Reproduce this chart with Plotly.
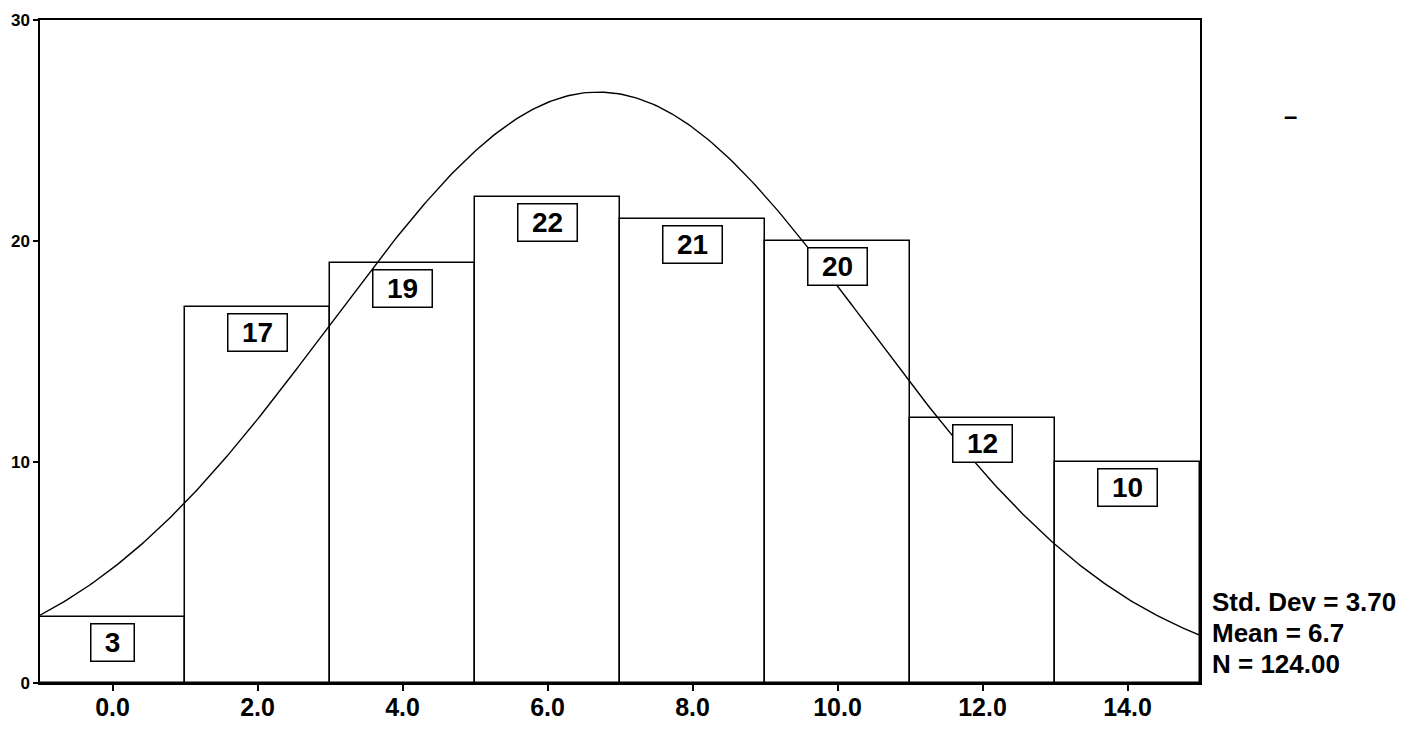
import numpy as np
import plotly.graph_objects as go

# ---- data ----
bin_centers = [0, 2, 4, 6, 8, 10, 12, 14]
counts = [3, 17, 19, 22, 21, 20, 12, 10]
bin_width = 2
x_tick_vals = [0, 2, 4, 6, 8, 10, 12, 14]
x_tick_text = ["0.0", "2.0", "4.0", "6.0", "8.0", "10.0", "12.0", "14.0"]
y_tick_vals = [0, 10, 20, 30]
y_tick_text = ["0", "10", "20", "30"]
std_dev = 3.70
mean = 6.7
n_total = 124.00

FONT = "Liberation Sans, Arial, sans-serif"

fig = go.Figure()

fig.add_trace(go.Bar(
    x=bin_centers, y=counts, width=bin_width,
    marker=dict(color="white", line=dict(color="black", width=1.5)),
    hoverinfo="skip", showlegend=False,
))

# fitted normal curve from the stated mean / std dev / N
xc = np.linspace(-1, 15, 400)
yc = n_total * bin_width / (std_dev * np.sqrt(2 * np.pi)) * np.exp(-0.5 * ((xc - mean) / std_dev) ** 2)
fig.add_trace(go.Scatter(
    x=xc, y=yc, mode="lines",
    line=dict(color="black", width=1.4),
    hoverinfo="skip", showlegend=False,
))

for xv, cv in zip(bin_centers, counts):
    txt = str(cv)
    fig.add_annotation(
        x=xv, y=cv, xref="x", yref="y", text=txt, showarrow=False,
        xanchor="center", yanchor="top", yshift=-6,
        font=dict(family=FONT, size=28, color="black", weight="bold"),
        bgcolor="white", bordercolor="black", borderwidth=1.5, borderpad=2,
        width=22 + 16 * len(txt), height=32, align="center",
    )

stat_lines = [f"Std. Dev = {std_dev:.2f}", f"Mean = {mean:.1f}", f"N = {n_total:.2f}"]
for i, line in enumerate(stat_lines):
    fig.add_annotation(
        x=1, xref="paper", xshift=10, y=3.67 - 1.40 * i, yref="y",
        text=line, showarrow=False, xanchor="left", yanchor="middle", align="left",
        font=dict(family=FONT, size=26, color="black", weight="bold"),
    )

fig.add_annotation(
    x=1, xref="paper", xshift=90, y=25.7, yref="y", text="–", showarrow=False,
    xanchor="center", yanchor="middle",
    font=dict(family=FONT, size=24, color="black", weight="bold"),
)

fig.update_layout(
    width=1420, height=733,
    margin=dict(l=32, r=228, t=12, b=58, autoexpand=False),
    paper_bgcolor="white", plot_bgcolor="white",
    template="none",
    bargap=0,
    xaxis=dict(
        range=[-1, 15], tickvals=x_tick_vals, ticktext=x_tick_text,
        showgrid=False, zeroline=False, showline=True, mirror=True,
        linecolor="black", linewidth=1.5, ticks="outside", ticklen=6,
        tickwidth=1.5, tickcolor="black", automargin=False,
        ticklabelstandoff=-5,
        tickfont=dict(family=FONT, size=25, color="black", weight="bold"),
    ),
    yaxis=dict(
        range=[0, 30], tickvals=y_tick_vals, ticktext=y_tick_text,
        showgrid=False, zeroline=False, showline=True, mirror=True,
        linecolor="black", linewidth=1.5, ticks="outside", ticklen=5,
        tickwidth=1.5, tickcolor="black", automargin=False,
        tickfont=dict(family=FONT, size=17, color="black", weight="bold"),
    ),
)

fig.write_html("out.html")
